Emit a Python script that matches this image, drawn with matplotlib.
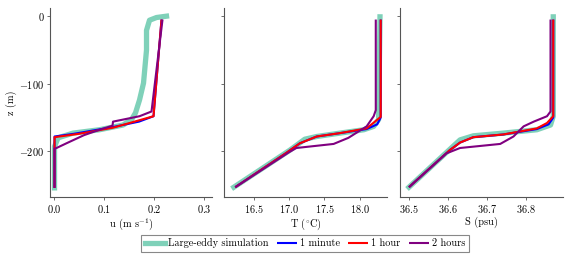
import matplotlib
matplotlib.use("Agg")
import matplotlib.pyplot as plt

plt.rcParams['font.family'] = ['cmr10', 'DejaVu Serif']
plt.rcParams['mathtext.fontset'] = 'cm'
plt.rcParams['axes.formatter.use_mathtext'] = True
plt.rcParams['font.size'] = 7.4

# --- data: (value, z) per series ---
# u profiles
u_les = [0.225, 0.205, 0.191, 0.185, 0.185, 0.179, 0.171, 0.163, 0.155, 0.138, 0.091, 0.038, 0.008, 0.001, 0.001]
z_u_les = [0, -2, -6, -21, -50, -99, -124, -143, -153, -161, -168, -173, -180, -193, -254]
u_1min = [0.215, 0.199, 0.170, 0.118, 0.040, 0.001, 0.001]
z_u_1min = [-5, -148, -156, -164, -174, -178, -254]
u_1h = [0.215, 0.199, 0.118, 0.050, 0.001, 0.001]
z_u_1h = [-5, -148, -165, -174, -179, -254]
u_2h = [0.217, 0.195, 0.171, 0.118, 0.117, 0.091, 0.060, 0.025, 0.005, 0.001, 0.001]
z_u_2h = [-5, -141, -148, -156, -162, -168, -176, -188, -195, -196, -254]

# T profiles
T_les = [16.21, 17.01, 17.22, 17.39, 17.72, 18.06, 18.20, 18.27, 18.29]
z_T_les = [-253, -198, -182, -178, -173, -168, -163, -153, -1]
T_1min = [16.23, 16.96, 17.15, 17.39, 17.72, 18.10, 18.25, 18.30, 18.30]
z_T_1min = [-253, -202, -188, -178, -173, -167, -160, -150, -5]
T_1h = [16.23, 16.96, 17.15, 17.39, 17.72, 18.10, 18.30, 18.30]
z_T_1h = [-253, -202, -188, -178, -173, -166, -149, -5]
T_2h = [16.23, 17.00, 17.10, 17.63, 17.84, 18.10, 18.20, 18.23, 18.23]
z_T_2h = [-253, -201, -195, -189, -180, -163, -148, -139, -5]

# S profiles
S_les = [36.50, 36.631, 36.665, 36.742, 36.828, 36.863, 36.870, 36.870]
z_S_les = [-253, -183, -177, -173, -168, -161, -148, -1]
S_1min = [36.50, 36.605, 36.631, 36.665, 36.742, 36.828, 36.858, 36.870, 36.870]
z_S_1min = [-253, -198, -187, -179, -175, -167, -160, -150, -5]
S_1h = [36.50, 36.605, 36.631, 36.665, 36.742, 36.828, 36.854, 36.870, 36.870]
z_S_1h = [-253, -198, -187, -179, -175, -166, -158, -148, -5]
S_2h = [36.50, 36.596, 36.631, 36.734, 36.768, 36.794, 36.820, 36.854, 36.863, 36.863]
z_S_2h = [-253, -203, -195, -189, -178, -163, -156, -148, -141, -5]

labels = ["Large-eddy simulation", "1 minute", "1 hour", "2 hours"]
colors = ["#7fd1b9", "blue", "red", "purple"]
widths = [3.8, 1.5, 1.5, 1.5]

fig = plt.figure(figsize=(5.71, 2.60), dpi=100)
H = 0.969 - 0.241
ax1 = fig.add_axes([0.0876, 0.241, 0.2837, H])
ax2 = fig.add_axes([0.3923, 0.241, 0.2855, H], sharey=ax1)
ax3 = fig.add_axes([0.7005, 0.241, 0.2855, H], sharey=ax1)

panels = [
    (ax1, [(u_les, z_u_les), (u_1min, z_u_1min), (u_1h, z_u_1h), (u_2h, z_u_2h)]),
    (ax2, [(T_les, z_T_les), (T_1min, z_T_1min), (T_1h, z_T_1h), (T_2h, z_T_2h)]),
    (ax3, [(S_les, z_S_les), (S_1min, z_S_1min), (S_1h, z_S_1h), (S_2h, z_S_2h)]),
]
handles = []
for ax, series in panels:
    hs = []
    for (x, z), c, w, lab in zip(series, colors, widths, labels):
        h, = ax.plot(x, z, color=c, lw=w, label=lab,
                     solid_capstyle='projecting' if w > 2 else 'butt')
        hs.append(h)
    handles = hs
    for s in ['top', 'right']:
        ax.spines[s].set_visible(False)
    for s in ['left', 'bottom']:
        ax.spines[s].set_color('#555555')
        ax.spines[s].set_linewidth(0.8)
    ax.tick_params(direction='out', length=2.5, width=0.6, colors='#555555',
                   labelcolor='black', pad=1.5)

ax1.set_ylim(-268, 12)
ax1.set_yticks([0, -100, -200])
ax1.set_xlim(-0.008, 0.316)
ax1.set_xticks([0.0, 0.1, 0.2, 0.3])
ax1.set_xlabel(r"u (m s$^{-1}$)", labelpad=1)
ax1.set_ylabel("z (m)", labelpad=2)

ax2.set_xlim(16.07, 18.39)
ax2.set_xticks([16.5, 17.0, 17.5, 18.0])
ax2.set_xlabel(r"T ($^{\circ}$C)", labelpad=1)
ax2.tick_params(axis='y', labelleft=False)

ax3.set_xlim(36.477, 36.895)
ax3.set_xticks([36.5, 36.6, 36.7, 36.8])
ax3.set_xlabel("S (psu)", labelpad=1)
ax3.tick_params(axis='y', labelleft=False)

leg = fig.legend(handles, labels, loc='center', bbox_to_anchor=(0.534, 0.0635),
                 ncol=4, fancybox=False, edgecolor='#888888', handlelength=1.95,
                 handletextpad=0.3, columnspacing=0.8, borderpad=0.35, framealpha=1)
leg.get_frame().set_linewidth(0.8)

fig.savefig("out.png", dpi=100)
